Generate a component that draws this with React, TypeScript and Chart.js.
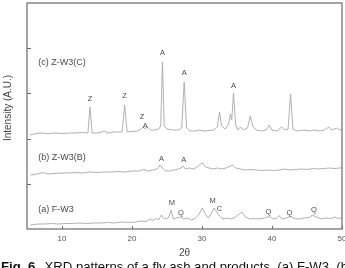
import React, { useEffect, useRef } from "react";
import { Chart, registerables } from "chart.js";

Chart.register(...registerables);

// 2θ range and ticks
const xTicks = [10, 20, 30, 40, 50];
const yTicks = [45.2, 90.4, 135.6, 180.8];

// (c) Z-W3(C)
const cTheta = [5.4, 6, 7, 8, 9, 10, 11, 12, 13, 13.7, 14.0, 14.3, 15, 15.7, 16.1, 16.5, 17.5, 18.6, 18.95, 19.3, 20, 20.8, 21.3, 21.6, 21.9, 22.2, 22.6, 23.2, 23.8, 24.1, 24.35, 24.6, 25, 25.8, 26.6, 27.1, 27.45, 27.8, 28.3, 29, 29.6, 30.3, 31, 31.7, 32.2, 32.5, 32.8, 33.3, 33.8, 34.05, 34.25, 34.5, 34.8, 35.1, 35.5, 35.9, 36.5, 36.9, 37.3, 37.8, 38.5, 39.2, 39.6, 40, 40.7, 41.4, 41.8, 42.3, 42.65, 43, 43.6, 44.5, 45.3, 46, 46.8, 47.5, 48.1, 48.5, 49.3, 49.7, 50];
const cIntensity = [94, 95, 96, 95.5, 96, 95.5, 96, 96, 96.5, 96, 122, 96, 96, 97, 98, 96, 97, 97, 124, 97, 97.5, 98, 100, 102, 100, 102, 99, 99, 100, 103, 167, 103, 100, 99, 99, 101, 147, 101, 98, 98, 99, 98, 98.5, 99, 102, 117, 103, 100, 105, 115, 109, 136, 105, 99, 102, 99, 101, 113, 102, 99, 98, 99, 104, 99, 98, 102, 99, 100, 135, 100, 98, 99, 98, 99, 98, 99, 102, 99, 101, 99, 99.5];

// (b) Z-W3(B)
const bTheta = [5.5, 6.5, 7.3, 8, 9, 10, 11, 12, 13, 14, 15, 16, 17, 18, 19, 20, 21, 21.7, 22.3, 23, 23.6, 24.0, 24.3, 24.8, 25.4, 26, 26.6, 27.0, 27.3, 27.6, 28.2, 28.8, 29.3, 29.8, 30.1, 30.5, 31, 31.6, 32.2, 32.8, 33.4, 34.1, 34.4, 34.8, 35.5, 36.2, 37, 37.8, 38.6, 39.4, 40.2, 41, 41.8, 42.6, 43.4, 44.2, 45, 45.8, 46.6, 47.4, 48.2, 49, 49.6, 50];
const bIntensity = [54, 55, 56.5, 55, 55.5, 56, 56, 56.5, 56, 57, 56.5, 57, 57, 57.5, 57, 58, 58, 59.5, 58, 59, 60, 64, 61, 58, 58, 59, 60, 61, 63, 60, 61, 60, 62, 65, 66, 62, 61, 60, 61, 60, 61, 63, 64, 61, 60, 59, 59.5, 59, 58.5, 59, 58.5, 59, 60, 59, 59.5, 60, 59.5, 60.5, 60, 60.5, 61, 60.5, 61, 61];

// (a) F-W3
const aTheta = [5.5, 6.5, 7.5, 8.5, 9.5, 10.5, 11.5, 12.5, 13.5, 14.5, 15.5, 16.5, 17.5, 18.5, 19.5, 20.5, 21.3, 22, 22.6, 23, 23.4, 23.8, 24.2, 24.6, 25.2, 25.6, 25.9, 26.4, 26.9, 27.4, 27.9, 28.5, 29, 29.6, 30.05, 30.5, 30.9, 31.3, 31.7, 32.1, 32.5, 33, 33.6, 34.2, 34.8, 35.3, 35.7, 36.2, 36.8, 37.5, 38.2, 38.9, 39.6, 40.2, 40.7, 41.0, 41.4, 42, 42.6, 43.2, 43.9, 44.6, 45.3, 45.8, 46.3, 47, 47.7, 48.4, 49, 49.5, 50];
const aIntensity = [4, 5, 5, 5.5, 5, 5.5, 5.5, 6, 5.5, 6, 6, 6.5, 6, 7, 6.5, 7, 8, 7.5, 10, 8.5, 10.5, 9, 14, 10, 11, 19, 10, 11, 12, 10, 11, 9, 10.5, 15, 21, 15, 11, 15, 21, 17, 13, 10, 11, 10, 12, 15, 17, 12, 10, 10.5, 10, 11, 12.5, 10, 11, 13.5, 10, 11, 12.5, 10.5, 10, 11, 11.5, 14, 12, 10, 11, 10.5, 12, 10.5, 11];

// series labels
const seriesNames = ["(c) Z-W3(C)", "(b) Z-W3(B)", "(a) F-W3"];
const seriesNameY = [166, 71, 19];

// peak assignments
const peakLetters = ["Z", "Z", "Z", "A", "A", "A", "A", "A", "A", "M", "Q", "M", "C", "Q", "Q", "Q"];
const peakTheta = [14.0, 18.95, 21.45, 21.9, 24.35, 27.45, 34.5, 24.2, 27.4, 25.7, 27.0, 31.5, 32.5, 39.5, 42.5, 46.0];
const peakY = [130, 133, 112, 103, 176, 156, 143, 70, 69, 26, 16, 28, 20, 17, 16, 19];

const captionLead = "Fig. 6.";
const captionText = " XRD patterns of a fly ash and products. (a) F-W3, (b)";

const FONT = '"Liberation Sans", Arial, Helvetica, sans-serif';

const mk = (t: number[], v: number[]) => t.map((x, i) => ({ x, y: v[i] }));

export default function App() {
  const ref = useRef<HTMLCanvasElement | null>(null);
  useEffect(() => {
    if (!ref.current) return;
    const deco = {
      id: "deco",
      afterDraw(chart: any) {
        const { ctx, chartArea: ca, scales } = chart;
        const xs = scales.x, ys = scales.y;
        ctx.save();
        // frame
        ctx.strokeStyle = "#6a6a6a";
        ctx.lineWidth = 1.2;
        ctx.strokeRect(ca.left, ca.top, ca.right - ca.left, ca.bottom - ca.top);
        // ticks
        ctx.lineWidth = 1;
        ctx.beginPath();
        xTicks.forEach((t) => {
          const px = Math.round(xs.getPixelForValue(t)) + 0.5;
          ctx.moveTo(px, ca.bottom);
          ctx.lineTo(px, ca.bottom - 3);
        });
        yTicks.forEach((t) => {
          const py = Math.round(ys.getPixelForValue(t)) + 0.5;
          ctx.moveTo(ca.left, py);
          ctx.lineTo(ca.left + 4, py);
        });
        ctx.stroke();
        // tick labels
        ctx.fillStyle = "#555";
        ctx.font = `8px ${FONT}`;
        ctx.textAlign = "center";
        ctx.textBaseline = "middle";
        xTicks.forEach((t) => {
          ctx.fillText(String(t), xs.getPixelForValue(t), 239);
        });
        // x title
        ctx.fillStyle = "#444";
        ctx.font = `10px ${FONT}`;
        ctx.fillText("2θ", (ca.left + ca.right) / 2, 253);
        // y title
        ctx.save();
        ctx.translate(8, 108);
        ctx.rotate(-Math.PI / 2);
        ctx.fillText("Intensity (A.U.)", 0, 0);
        ctx.restore();
        // series names
        ctx.fillStyle = "#4a4a4a";
        ctx.font = `9px ${FONT}`;
        ctx.textAlign = "left";
        seriesNames.forEach((n, i) => {
          ctx.fillText(n, xs.getPixelForValue(6.6), ys.getPixelForValue(seriesNameY[i]));
        });
        // peak letters
        ctx.font = `7.5px ${FONT}`;
        ctx.textAlign = "center";
        peakLetters.forEach((l, i) => {
          ctx.fillText(l, xs.getPixelForValue(peakTheta[i]), ys.getPixelForValue(peakY[i]));
        });
        // caption (scaled to span the page width)
        ctx.fillStyle = "#111";
        ctx.textAlign = "left";
        ctx.textBaseline = "alphabetic";
        ctx.font = `bold 11px ${FONT}`;
        const w1 = ctx.measureText(captionLead).width;
        ctx.font = `11px ${FONT}`;
        const w2 = ctx.measureText(captionText).width;
        const s = 11 * 352 / (w1 + w2 + 2);
        ctx.font = `bold ${s}px ${FONT}`;
        ctx.fillText(captionLead, 1, 271);
        const lw = ctx.measureText(captionLead).width;
        ctx.font = `${s}px ${FONT}`;
        ctx.fillText(captionText, 1 + lw + 2, 271);
        ctx.restore();
      },
    };
    const ds = (t: number[], v: number[]) => ({
      data: mk(t, v),
      borderColor: "#a8a8a8",
      borderWidth: 0.9,
      pointRadius: 0,
      tension: 0,
      fill: false,
    });
    const chart = new Chart(ref.current, {
      type: "line",
      data: {
        datasets: [ds(cTheta, cIntensity), ds(bTheta, bIntensity), ds(aTheta, aIntensity)],
      },
      options: {
        animation: false,
        responsive: false,
        maintainAspectRatio: false,
        layout: { padding: { left: 27, right: 3, top: 3, bottom: 39 } },
        plugins: { legend: { display: false }, tooltip: { enabled: false } },
        scales: {
          x: { type: "linear", min: 5, max: 50, display: false },
          y: { type: "linear", min: 0, max: 226, display: false },
        },
      },
      plugins: [deco],
    });
    return () => chart.destroy();
  }, []);
  return (
    <div style={{ position: "absolute", left: 0, top: 0, width: 345, height: 268, background: "#fff" }}>
      <canvas ref={ref} width={345} height={268} style={{ width: 345, height: 268, display: "block" }} />
    </div>
  );
}
